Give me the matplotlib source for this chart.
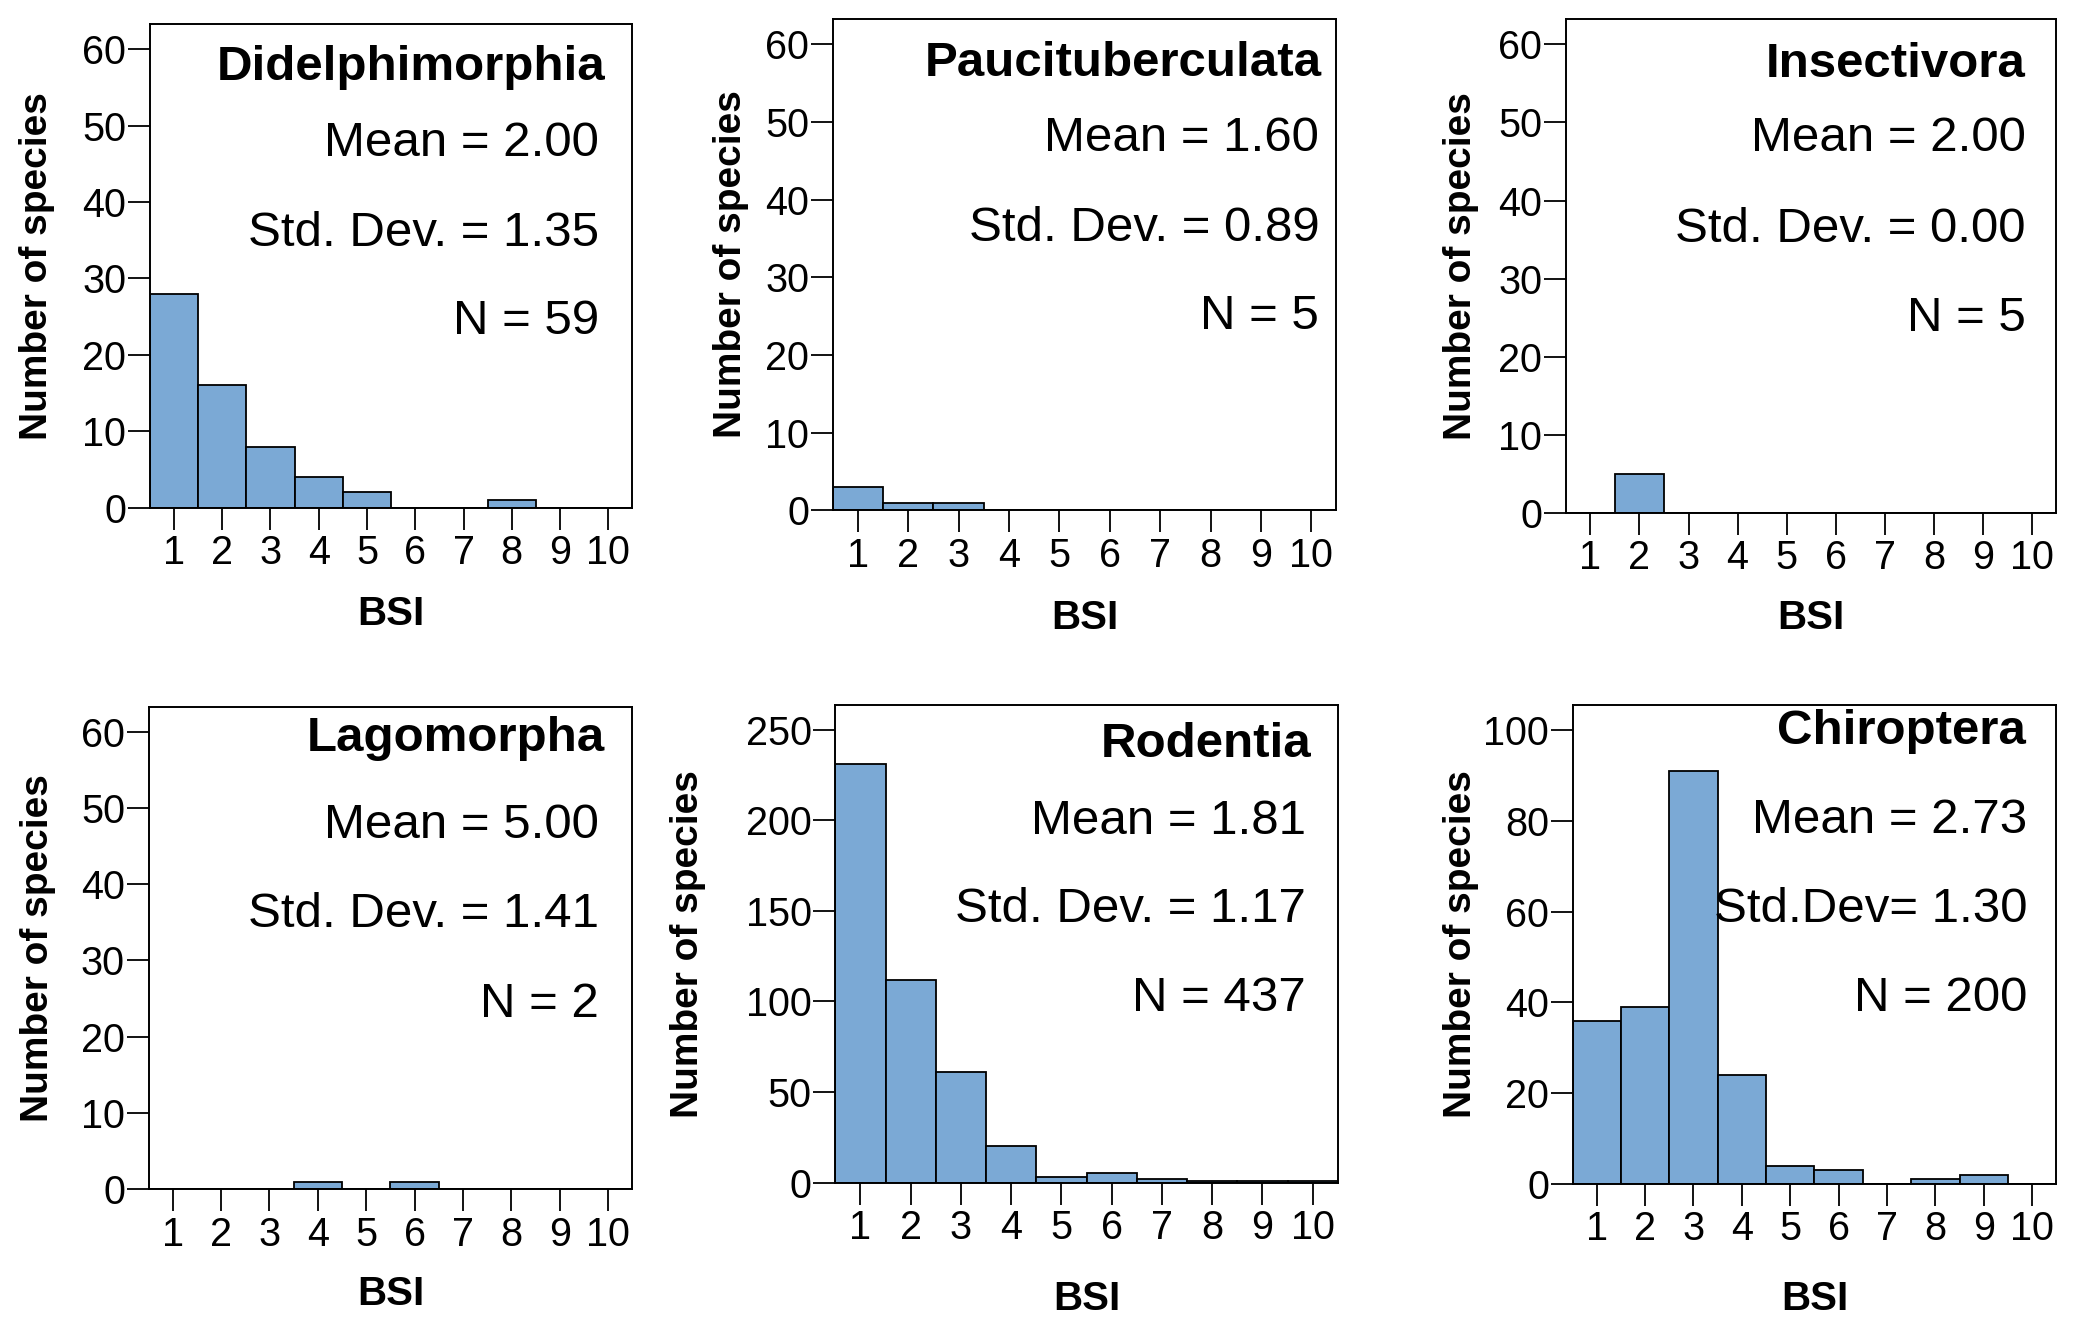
import matplotlib.pyplot as plt
import matplotlib.transforms as mtransforms
import numpy as np

plt.rcParams['font.family'] = ['Liberation Sans', 'DejaVu Sans']

# === Data ===
bsi = np.arange(1, 11)
orders = ["Didelphimorphia", "Paucituberculata", "Insectivora",
          "Lagomorpha", "Rodentia", "Chiroptera"]
didelphimorphia = [28, 16, 8, 4, 2, 0, 0, 1, 0, 0]
paucituberculata = [3, 1, 1, 0, 0, 0, 0, 0, 0, 0]
insectivora = [0, 5, 0, 0, 0, 0, 0, 0, 0, 0]
lagomorpha = [0, 0, 0, 1, 0, 1, 0, 0, 0, 0]
rodentia = [231, 112, 61, 20, 3, 5, 2, 1, 1, 1]
chiroptera = [36, 39, 91, 24, 4, 3, 0, 1, 2, 0]
counts = [didelphimorphia, paucituberculata, insectivora,
          lagomorpha, rodentia, chiroptera]
mean_labels = ["Mean = 2.00", "Mean = 1.60", "Mean = 2.00",
               "Mean = 5.00", "Mean = 1.81", "Mean = 2.73"]
sd_labels = ["Std. Dev. = 1.35", "Std. Dev. = 0.89", "Std. Dev. = 0.00",
             "Std. Dev. = 1.41", "Std. Dev. = 1.17", "Std.Dev= 1.30"]
n_labels = ["N = 59", "N = 5", "N = 5", "N = 2", "N = 437", "N = 200"]
y_ticks = [np.arange(0, 61, 10)] * 4 + [np.arange(0, 251, 50), np.arange(0, 101, 20)]
y_max = [63.3, 63.3, 63.3, 63.3, 263.6, 105.5]

# === Layout (reference pixels on a 1568-wide view: left, right, top, bottom) ===
W, H = 1568, 1001
boxes = [(113, 477, 18, 383), (628, 1008, 14, 385), (1181, 1551, 14, 387),
         (112, 477, 533, 897), (630, 1009, 532, 892), (1186, 1551, 532, 893)]
ylabel_x = [28, 551, 1102, 29, 519, 1102]
xlabel_y = [463, 466, 466, 976, 980, 980]
title_y = [0.91, 0.908, 0.908, 0.934, 0.917, 0.945]
title_dx = [20, 11, 23, 21, 20, 23]
stat_dx = [25, 13, 23, 25, 24, 22]
stat_y = [(0.753, 0.567, 0.384), (0.757, 0.574, 0.394), (0.757, 0.574, 0.394),
          (0.753, 0.569, 0.382), (0.756, 0.572, 0.385), (0.759, 0.573, 0.388)]

BAR_COLOR = '#7BA9D5'

fig = plt.figure(figsize=(20.79, 13.27), dpi=100)

for i in range(6):
    l, r, t, b = boxes[i]
    ax = fig.add_axes([l / W, 1 - b / H, (r - l) / W, (b - t) / H])
    ax.bar(bsi, counts[i], width=1.0, color=BAR_COLOR, edgecolor='black',
           linewidth=1.3, zorder=2)
    ax.set_xlim(0.5, 10.5)
    ax.set_ylim(0, y_max[i])
    ax.set_xticks(bsi)
    ax.set_yticks(y_ticks[i])
    ax.tick_params(axis='both', direction='out', length=16, width=1.3,
                   labelsize=28.5, colors='black')
    ax.tick_params(axis='x', pad=3)
    ax.tick_params(axis='y', pad=1)
    for sp in ax.spines.values():
        sp.set_linewidth(1.4)

    ax.set_ylabel("Number of species", fontsize=28, fontweight='bold')
    ax.yaxis.set_label_coords(ylabel_x[i] / W, 0.5,
                              transform=mtransforms.blended_transform_factory(
                                  fig.transFigure, ax.transAxes))
    ax.yaxis.label.set_va('center')
    ax.set_xlabel("BSI", fontsize=29, fontweight='bold')
    ax.xaxis.set_label_coords(0.5, 1 - xlabel_y[i] / H,
                              transform=mtransforms.blended_transform_factory(
                                  ax.transAxes, fig.transFigure))
    ax.xaxis.label.set_va('center')

    tx = 1 - title_dx[i] / (r - l)
    sx = 1 - stat_dx[i] / (r - l)
    ax.text(tx, title_y[i], orders[i], transform=ax.transAxes, ha='right',
            va='center', fontsize=35.5, fontweight='bold')
    for txt, yy in zip([mean_labels[i], sd_labels[i], n_labels[i]], stat_y[i]):
        ax.text(sx, yy, txt, transform=ax.transAxes, ha='right', va='center',
                fontsize=35.5)

fig.savefig("out.png", dpi=100)
